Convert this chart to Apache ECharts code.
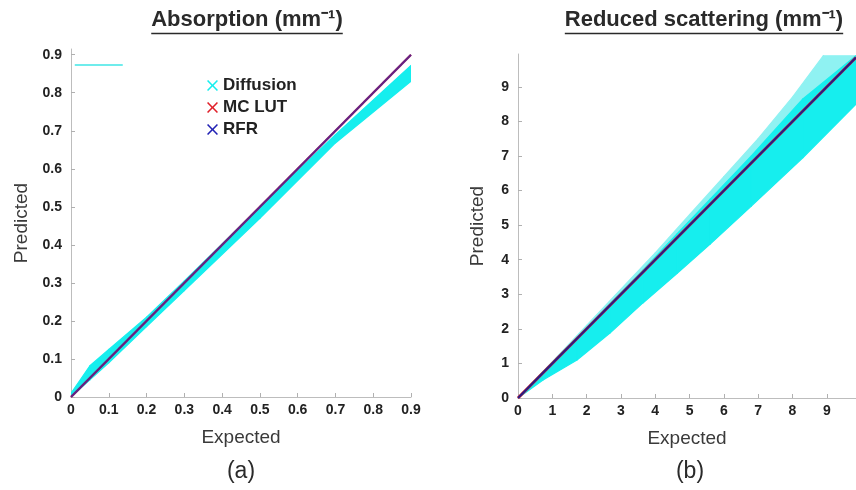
<!DOCTYPE html>
<html>
<head>
<meta charset="utf-8">
<script src="https://cdn.jsdelivr.net/npm/echarts@6/dist/echarts.min.js"></script>
<style>
  html, body { margin: 0; background: #fff; }
  #chart { width: 856px; height: 490px; }
</style>
</head>
<body>
<div id="chart"></div>
<script>
// ---- (a) Absorption ----
const absTicks = [0, 0.1, 0.2, 0.3, 0.4, 0.5, 0.6, 0.7, 0.8, 0.9];
const absExpected = [0, 0.05, 0.1, 0.2, 0.3, 0.5, 0.7, 0.9];
const absDiffLow = [0, 0.045, 0.09, 0.185, 0.28, 0.47, 0.668, 0.83];
const absDiffHigh = [0.01, 0.082, 0.125, 0.21, 0.305, 0.5, 0.69, 0.872];
const absStrayX = [0.01, 0.137];
const absStrayY = [0.873, 0.873];
const absLineX = [0, 0.9];
const absMcLut = [0, 0.9];
const absRfr = [0, 0.9];

// ---- (b) Reduced scattering ----
const scatTicks = [0, 1, 2, 3, 4, 5, 6, 7, 8, 9];
const scatExpected = [0, 0.73, 1.72, 2.68, 3.64, 4.64, 5.6, 6.8, 8.3, 9.85];
const scatDiffLow = [0, 0.52, 1.1, 1.88, 2.75, 3.61, 4.45, 5.55, 6.95, 8.5];
const scatDiffHigh = [0, 0.76, 1.76, 2.73, 3.7, 4.75, 5.75, 7.0, 8.65, 9.9];
const scatSpreadX = [0, 2, 4, 5, 6, 7, 8, 8.9, 9.85];
const scatSpreadLow = [0, 2, 4, 5, 6, 7, 8, 8.9, 9.85];
const scatSpreadHigh = [0, 2.1, 4.2, 5.3, 6.4, 7.5, 8.7, 9.9, 9.9];
const scatLineX = [0, 9.85];
const scatMcLut = [0, 9.85];
const scatRfr = [0, 9.85];

const legendNames = ['Diffusion', 'MC LUT', 'RFR'];

const FONT = '"Liberation Sans", Arial, sans-serif';
const CYAN = '#16eeee';
const RED = '#e0202a';
const BLUE = '#2222b4';
const X_ICON = 'path://M0,1L1,0L5,4L9,0L10,1L6,5L10,9L9,10L5,6L1,10L0,9L4,5Z';

const zip = (a, b) => a.map((v, i) => [v, b[i]]);

// band segments: [x0, lo0, hi0, x1, lo1, hi1]
function bandSegments(xs, lo, hi) {
  const out = [];
  for (let i = 0; i < xs.length - 1; i++) {
    out.push([xs[i], lo[i], hi[i], xs[i + 1], lo[i + 1], hi[i + 1]]);
  }
  return out;
}

function bandSeries(name, axisIdx, xs, lo, hi, color) {
  return {
    name: name,
    type: 'custom',
    xAxisIndex: axisIdx,
    yAxisIndex: axisIdx,
    clip: true,
    silent: true,
    itemStyle: { color: color },
    encode: { x: [0, 3], y: [1, 2, 4, 5] },
    data: bandSegments(xs, lo, hi),
    renderItem: function (params, api) {
      const pts = [
        api.coord([api.value(0), api.value(2)]),
        api.coord([api.value(3), api.value(5)]),
        api.coord([api.value(3), api.value(4)]),
        api.coord([api.value(0), api.value(1)])
      ];
      return {
        type: 'polygon',
        shape: { points: pts },
        style: { fill: color, stroke: color, lineWidth: 1.2, lineJoin: 'round' }
      };
    }
  };
}

function textWidth(str, font) {
  const ctx = document.createElement('canvas').getContext('2d');
  ctx.font = font;
  return ctx.measureText(str).width;
}

function axisBase(ticks, name, gap, isY) {
  return {
    type: 'value',
    min: 0,
    name: name,
    nameLocation: 'middle',
    nameGap: gap,
    nameTextStyle: { fontFamily: FONT, fontSize: 19, color: '#3a3a3a' },
    splitLine: { show: false },
    axisLine: { show: true, lineStyle: { color: '#bdbdbd', width: 1 } },
    axisTick: { show: true, inside: true, length: 4, customValues: ticks, lineStyle: { color: '#b0b0b0' } },
    axisLabel: {
      customValues: ticks,
      margin: isY ? 9 : 6,
      fontFamily: FONT,
      fontWeight: 'bold',
      fontSize: 14,
      color: '#222'
    }
  };
}

const titleFont = 'bold 22px ' + FONT;
const titles = [
  { text: 'Absorption (mm⁻¹)', x: 247 },
  { text: 'Reduced scattering (mm⁻¹)', x: 704 }
];
const graphics = [];
titles.forEach(t => {
  const w = textWidth(t.text, titleFont);
  graphics.push({
    type: 'text', x: t.x, y: 20,
    style: { text: t.text, font: titleFont, fill: '#2a2a2a', textAlign: 'center', textVerticalAlign: 'middle' }
  });
  graphics.push({
    type: 'line',
    shape: { x1: t.x - w / 2, y1: 33.5, x2: t.x + w / 2, y2: 33.5 },
    style: { stroke: '#2a2a2a', lineWidth: 1.5 }
  });
});
[['(a)', 241], ['(b)', 690]].forEach(p => {
  graphics.push({
    type: 'text', x: p[1], y: 472,
    style: { text: p[0], font: '23px ' + FONT, fill: '#2a2a2a', textAlign: 'center', textVerticalAlign: 'middle' }
  });
});

const chart = echarts.init(document.getElementById('chart'));
chart.setOption({
  backgroundColor: '#fff',
  animation: false,
  graphic: graphics,
  legend: {
    data: legendNames,
    orient: 'vertical',
    left: 202,
    top: 72,
    itemGap: 5,
    itemWidth: 11,
    itemHeight: 11,
    icon: X_ICON,
    textStyle: { fontFamily: FONT, fontWeight: 'bold', fontSize: 17, color: '#222' }
  },
  grid: [
    { left: 71, top: 49, width: 340, bottom: 93 },
    { left: 518, top: 54, right: 0, bottom: 92 }
  ],
  xAxis: [
    Object.assign(axisBase(absTicks, 'Expected', 31, false), { gridIndex: 0, max: 0.9 }),
    Object.assign(axisBase(scatTicks, 'Expected', 31, false), { gridIndex: 1, max: 9.85 })
  ],
  yAxis: [
    Object.assign(axisBase(absTicks, 'Predicted', 40, true), { gridIndex: 0, max: 0.915 }),
    Object.assign(axisBase(scatTicks, 'Predicted', 31, true), { gridIndex: 1, max: 9.95 })
  ],
  series: [
    // (a)
    bandSeries('Diffusion', 0, absExpected, absDiffLow, absDiffHigh, CYAN),
    {
      name: 'absStray', type: 'line', xAxisIndex: 0, yAxisIndex: 0,
      data: zip(absStrayX, absStrayY), symbol: 'none',
      lineStyle: { width: 1.5, color: '#3fe6e6' }
    },
    {
      name: 'MC LUT', type: 'line', xAxisIndex: 0, yAxisIndex: 0,
      data: zip(absLineX, absMcLut), symbol: 'none',
      itemStyle: { color: RED }, lineStyle: { width: 2.2, color: RED }
    },
    {
      name: 'RFR', type: 'line', xAxisIndex: 0, yAxisIndex: 0,
      data: zip(absLineX, absRfr), symbol: 'none',
      itemStyle: { color: BLUE }, lineStyle: { width: 2.2, color: BLUE, opacity: 0.65 }
    },
    // (b)
    bandSeries('scatSpread', 1, scatSpreadX, scatSpreadLow, scatSpreadHigh, '#8ff2f2'),
    bandSeries('Diffusion', 1, scatExpected, scatDiffLow, scatDiffHigh, CYAN),
    {
      name: 'MC LUT', type: 'line', xAxisIndex: 1, yAxisIndex: 1,
      data: zip(scatLineX, scatMcLut), symbol: 'none',
      itemStyle: { color: RED }, lineStyle: { width: 3, color: RED }
    },
    {
      name: 'RFR', type: 'line', xAxisIndex: 1, yAxisIndex: 1,
      data: zip(scatLineX, scatRfr), symbol: 'none',
      itemStyle: { color: BLUE }, lineStyle: { width: 2, color: '#1c1c8a', opacity: 0.95 }
    }
  ]
});
</script>
</body>
</html>
